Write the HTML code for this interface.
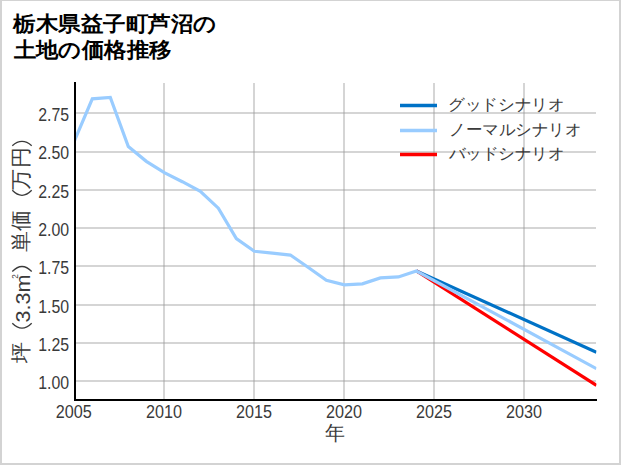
<!DOCTYPE html>
<html><head><meta charset="utf-8"><style>
html,body{margin:0;padding:0;background:#fff;}
body{width:621px;height:465px;overflow:hidden;}
svg{display:block;}
text{font-family:"Liberation Sans",sans-serif;fill:#3a3a3a;}
</style></head><body>
<svg width="621" height="465" viewBox="0 0 621 465">
<rect x="0" y="0" width="621" height="465" fill="#fff"/>
<rect x="0" y="0" width="621" height="1" fill="#d3d3d3"/><rect x="0" y="0" width="2" height="465" fill="#d3d3d3"/><rect x="619" y="0" width="2" height="465" fill="#d3d3d3"/><rect x="0" y="463" width="621" height="2" fill="#d3d3d3"/>
<g stroke="#9a9a9a" stroke-opacity="0.42" stroke-width="2" fill="none">
<line x1="164" y1="83" x2="164" y2="400" /><line x1="254" y1="83" x2="254" y2="400" /><line x1="344" y1="83" x2="344" y2="400" /><line x1="434" y1="83" x2="434" y2="400" /><line x1="524" y1="83" x2="524" y2="400" /><line x1="75" y1="113" x2="596" y2="113" /><line x1="75" y1="152" x2="596" y2="152" /><line x1="75" y1="190" x2="596" y2="190" /><line x1="75" y1="228" x2="596" y2="228" /><line x1="75" y1="266" x2="596" y2="266" /><line x1="75" y1="305" x2="596" y2="305" /><line x1="75" y1="343" x2="596" y2="343" /><line x1="75" y1="381" x2="596" y2="381" />
</g>
<defs><clipPath id="c"><rect x="74" y="60" width="522.4" height="341"/></clipPath></defs>
<g clip-path="url(#c)" fill="none" stroke-width="3.2" stroke-linejoin="miter" stroke-linecap="butt">
<polyline points="416.39,270.97 596.44,352.26" stroke="#0072c6"/>
<polyline points="416.39,270.97 596.44,385.33" stroke="#ff0000"/>
<polyline points="74.30,141.14 92.30,98.88 110.31,97.51 128.31,146.50 146.32,161.35 164.32,172.68 182.33,181.71 200.33,191.36 218.34,208.20 236.34,238.66 254.35,251.22 272.35,253.06 290.36,255.05 308.37,267.45 326.37,280.31 344.38,284.90 362.38,283.83 380.38,277.86 398.39,276.94 416.39,270.97 596.44,368.65" stroke="#99ccff"/>
</g>
<rect x="74" y="82" width="2" height="319" fill="#000"/>
<rect x="74" y="399" width="523" height="2" fill="#000"/>
<g font-size="18">
<text x="69.2" y="389.10" text-anchor="end" textLength="30.9" lengthAdjust="spacingAndGlyphs">1.00</text><text x="69.2" y="350.82" text-anchor="end" textLength="30.9" lengthAdjust="spacingAndGlyphs">1.25</text><text x="69.2" y="312.55" text-anchor="end" textLength="30.9" lengthAdjust="spacingAndGlyphs">1.50</text><text x="69.2" y="274.27" text-anchor="end" textLength="30.9" lengthAdjust="spacingAndGlyphs">1.75</text><text x="69.2" y="236.00" text-anchor="end" textLength="30.9" lengthAdjust="spacingAndGlyphs">2.00</text><text x="69.2" y="197.72" text-anchor="end" textLength="30.9" lengthAdjust="spacingAndGlyphs">2.25</text><text x="69.2" y="159.45" text-anchor="end" textLength="30.9" lengthAdjust="spacingAndGlyphs">2.50</text><text x="69.2" y="121.17" text-anchor="end" textLength="30.9" lengthAdjust="spacingAndGlyphs">2.75</text>
<text x="73.85" y="417.7" text-anchor="middle" textLength="36" lengthAdjust="spacingAndGlyphs">2005</text><text x="163.90" y="417.7" text-anchor="middle" textLength="36" lengthAdjust="spacingAndGlyphs">2010</text><text x="254.00" y="417.7" text-anchor="middle" textLength="36" lengthAdjust="spacingAndGlyphs">2015</text><text x="344.00" y="417.7" text-anchor="middle" textLength="36" lengthAdjust="spacingAndGlyphs">2020</text><text x="433.90" y="417.7" text-anchor="middle" textLength="36" lengthAdjust="spacingAndGlyphs">2025</text><text x="524.00" y="417.7" text-anchor="middle" textLength="36" lengthAdjust="spacingAndGlyphs">2030</text>
</g>
<g font-weight="bold" font-size="21.3" style="fill:#000">
<text style="fill:#000" x="13.3" y="30.5" textLength="203.5" lengthAdjust="spacingAndGlyphs">栃木県益子町芦沼の</text>
<text style="fill:#000" x="13.8" y="57.1" textLength="157.4" lengthAdjust="spacingAndGlyphs">土地の価格推移</text>
</g>
<g stroke-width="3.4">
<line x1="400" y1="105.5" x2="437" y2="105.5" stroke="#0072c6"/>
<line x1="400" y1="130.5" x2="437" y2="130.5" stroke="#99ccff"/>
<line x1="400" y1="154.5" x2="437" y2="154.5" stroke="#ff0000"/>
</g>
<g font-size="16">
<text x="448.3" y="110.1" textLength="116" lengthAdjust="spacingAndGlyphs">グッドシナリオ</text>
<text x="449.3" y="135.0" textLength="131.8" lengthAdjust="spacingAndGlyphs">ノーマルシナリオ</text>
<text x="448.5" y="159.0" textLength="115.8" lengthAdjust="spacingAndGlyphs">バッドシナリオ</text>
</g>
<text x="335.3" y="439.5" font-size="19.8" text-anchor="middle">年</text>
<g transform="rotate(-90)" font-size="20.5" text-anchor="middle">
<text x="-352.55" y="28">坪</text>
<text x="-298.45" y="30" font-size="21" textLength="48" lengthAdjust="spacingAndGlyphs">3.3m</text>
<text x="-276.5" y="18.3" font-size="8.2">2</text>
<text x="-241.6" y="28">単</text>
<text x="-220.3" y="28">価</text>
<text x="-179.05" y="28">万</text>
<text x="-157.75" y="28">円</text>
</g>
<g fill="none" stroke="#3a3a3a" stroke-width="1.3">
<path d="M12.3,323.3 Q22,333.1 31.7,323.3"/>
<path d="M12.3,271.5 Q22,261.5 31.7,271.5"/>
<path d="M12.3,190.3 Q22,200.3 31.7,190.3"/>
<path d="M12.3,145.7 Q22,137.1 31.7,145.7"/>
</g>
</svg>
</body></html>
